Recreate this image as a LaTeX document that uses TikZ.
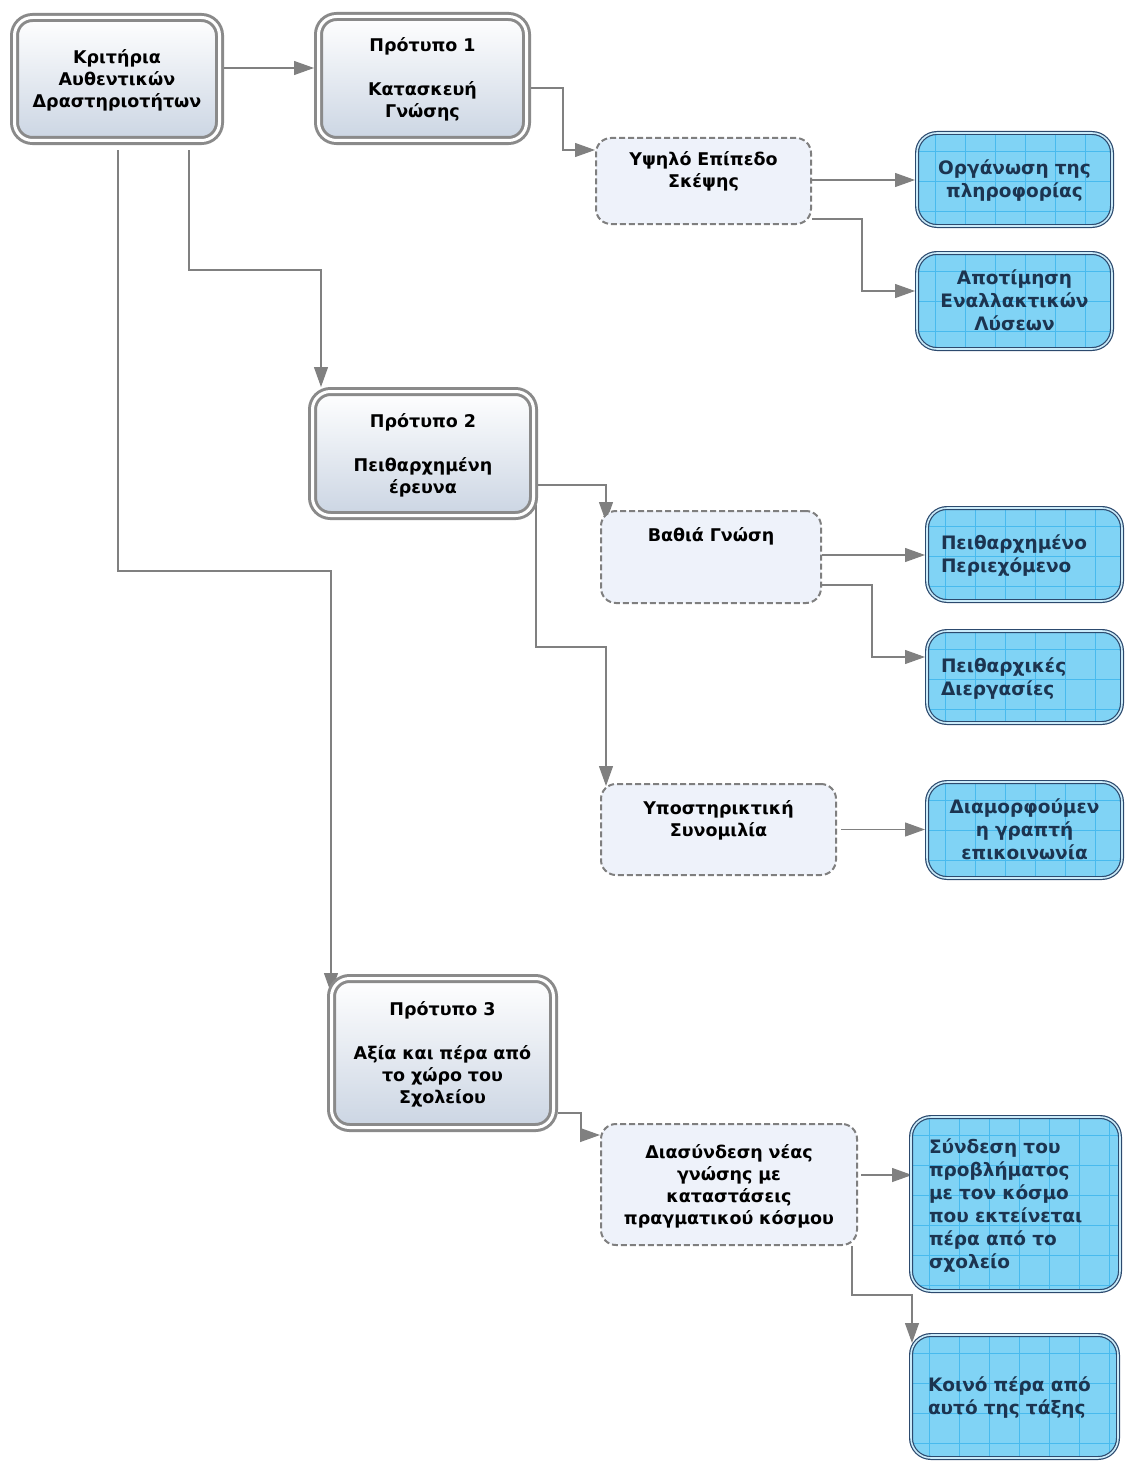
\documentclass[tikz,border=0pt]{standalone}
\usepackage{fontspec}
\setmainfont{DejaVu Sans}
\usetikzlibrary{arrows.meta,calc,backgrounds}

\definecolor{framegray}{HTML}{8A8A8A}
\definecolor{shadebot}{HTML}{CBD5E3}
\definecolor{dashfill}{HTML}{EEF2FA}
\definecolor{dashgray}{HTML}{7F7F7F}
\definecolor{bluefill}{HTML}{80D3F5}
\definecolor{bluegrid}{HTML}{48BAEE}
\definecolor{navy}{HTML}{2C4A6E}
\definecolor{bluegap}{HTML}{CBEBF9}
\definecolor{bluetext}{HTML}{1C3450}
\definecolor{conngray}{HTML}{808080}

\tikzset{
  boxfont/.style={font=\fontsize{17.5}{22}\selectfont\bfseries},
  bluefont/.style={font=\fontsize{18.5}{23}\selectfont\bfseries},
  textstrut/.style={execute at begin node=\rule{0pt}{17.5pt},
    execute at end node=\rule[-4.5pt]{0pt}{4.5pt}},
  stdbox/.style={rectangle, rounded corners=18pt, draw=framegray, line width=3pt,
    double=white, double distance=3pt, top color=white, bottom color=shadebot,
    outer sep=4.5pt, inner sep=0pt, align=center, text=black, boxfont, textstrut},
  dashbox/.style={rectangle, rounded corners=15pt, draw=dashgray, line width=2pt,
    dash pattern=on 6pt off 3pt, fill=dashfill, outer sep=1pt, inner sep=0pt,
    align=center, text=black, boxfont, textstrut},
  bluebox/.style={rectangle, rounded corners=20pt, draw=navy, line width=1.2pt,
    double=bluegap, double distance=1.6pt, fill=bluefill, outer sep=2pt,
    inner sep=0pt, text=bluetext, bluefont, textstrut,
    path picture={
      \foreach \i in {0,...,7}
        \draw[bluegrid, line width=0.7pt]
          ($(path picture bounding box.north west)+(18+\i*30,0)$) -- ++(0,200);
      \foreach \i in {0,...,6}
        \draw[bluegrid, line width=0.7pt]
          ($(path picture bounding box.north west)+(0,18+\i*30)$) -- ++(250,0);
    }},
  conn/.style={draw=conngray, line width=1.2pt,
    -{Triangle[length=20pt,width=14pt]}},
}

\begin{document}
\begin{tikzpicture}[x=1pt,y=-1pt]
\useasboundingbox (0,0) rectangle (1128,1461);

% main criteria box and the three standards
\node[stdbox, minimum width=205pt, minimum height=123pt, text width=195pt]
  (k) at (117,79) {Κριτήρια\\Αυθεντικών\\Δραστηριοτήτων};
\node[stdbox, minimum width=208pt, minimum height=124pt, text width=195pt]
  (p1) at (422.5,78.5) {Πρότυπο 1\\~\\Κατασκευή\\Γνώσης};
\node[stdbox, minimum width=221pt, minimum height=124pt, text width=205pt]
  (p2) at (423,453.5) {Πρότυπο 2\\~\\Πειθαρχημένη\\έρευνα};
\node[stdbox, minimum width=222pt, minimum height=149pt, text width=205pt]
  (p3) at (442.5,1053) {Πρότυπο 3\\~\\Αξία και πέρα από\\το χώρο του\\Σχολείου};

% dashed intermediate boxes
\node[dashbox, minimum width=215pt, minimum height=86pt, text width=205pt]
  (yb) at (703.5,181) {Υψηλό Επίπεδο\\Σκέψης\\~};
\node[dashbox, minimum width=220pt, minimum height=92pt, text width=210pt]
  (b) at (711,557) {Βαθιά Γνώση\\~\\~};
\node[dashbox, minimum width=235pt, minimum height=91pt, text width=225pt]
  (s) at (718.5,829.5) {Υποστηρικτική\\Συνομιλία\\~};
\node[dashbox, minimum width=256pt, minimum height=121pt, text width=246pt]
  (d) at (729,1184.5) {Διασύνδεση νέας\\γνώσης με\\καταστάσεις\\πραγματικού κόσμου};

% blue outcome boxes
\node[bluebox, align=center, minimum width=195pt, minimum height=93pt, text width=185pt]
  (o) at (1014.5,179.5) {Οργάνωση της\\πληροφορίας};
\node[bluebox, align=center, minimum width=195pt, minimum height=96pt, text width=185pt]
  (a) at (1014.5,301) {Αποτίμηση\\Εναλλακτικών\\Λύσεων};
\node[bluebox, align=left, minimum width=195pt, minimum height=93pt, text width=167pt]
  (pp) at (1024.5,554.5) {Πειθαρχημένο\\Περιεχόμενο};
\node[bluebox, align=left, minimum width=195pt, minimum height=92pt, text width=167pt]
  (pd) at (1024.5,677) {Πειθαρχικές\\Διεργασίες};
\node[bluebox, align=center, minimum width=195pt, minimum height=96pt, text width=185pt]
  (dm) at (1024.5,830) {Διαμορφούμεν\\η γραπτή\\επικοινωνία};
\node[bluebox, align=left, minimum width=209pt, minimum height=174pt, text width=173pt]
  (sy) at (1015.5,1204) {Σύνδεση του\\προβλήματος\\με τον κόσμο\\που εκτείνεται\\πέρα από το\\σχολείο};
\node[bluebox, align=left, minimum width=207pt, minimum height=123pt, text width=173pt]
  (ko) at (1014.5,1396.5) {Κοινό πέρα από\\αυτό της τάξης};

% connectors
\begin{scope}[on background layer]
\draw[conn] ([yshift=11pt]k.east) -- ([yshift=11pt]k.east -| p1.west);
\draw[conn] ([yshift=-9.5pt]p1.east) -- ++(32,0) |- ([yshift=31pt]yb.west);
\draw[conn] ([yshift=1pt]yb.east) -- ([yshift=1pt]yb.east -| o.west);
\draw[conn] ([yshift=-38pt]yb.east) -- ++(50,0) |- ([yshift=10pt]a.west);
\draw[conn] ([xshift=72pt,yshift=-5pt]k.south) -- ++(0,120) -| ([xshift=-102pt]p2.north);
\draw[conn] ([xshift=1pt,yshift=-5pt]k.south) -- ++(0,421) -| ([xshift=-111.5pt,yshift=-19pt]p3.north);
\draw[conn] ([yshift=-31.5pt]p2.east) -- ++(68,0) -- ([xshift=-105pt,yshift=-12pt]b.north);
\draw[conn] ([xshift=113pt,yshift=15pt]p2.south) -- ++(0,142) -| ([xshift=-112.5pt,yshift=-3pt]s.north);
\draw[conn] ([yshift=2pt]b.east) -- ([yshift=2pt]b.east -| pp.west);
\draw[conn] ([yshift=-28pt]b.east) -- ++(50,0) |- ([yshift=20pt]pd.west);
\draw[conn] ([xshift=4pt]s.east) -- (s.east -| dm.west);
\draw[conn] ([yshift=-60pt]p3.east) -- ++(23,0) |- ([yshift=49.5pt]d.west);
\draw[conn] ([xshift=3pt,yshift=9.5pt]d.east) -- ([xshift=3pt,yshift=9.5pt]d.east -| sy.west);
\draw[conn] ([xshift=123pt]d.south) -- ++(0,49) -| ([xshift=-102.5pt,yshift=-10pt]ko.north);
\end{scope}
\end{tikzpicture}
\end{document}
